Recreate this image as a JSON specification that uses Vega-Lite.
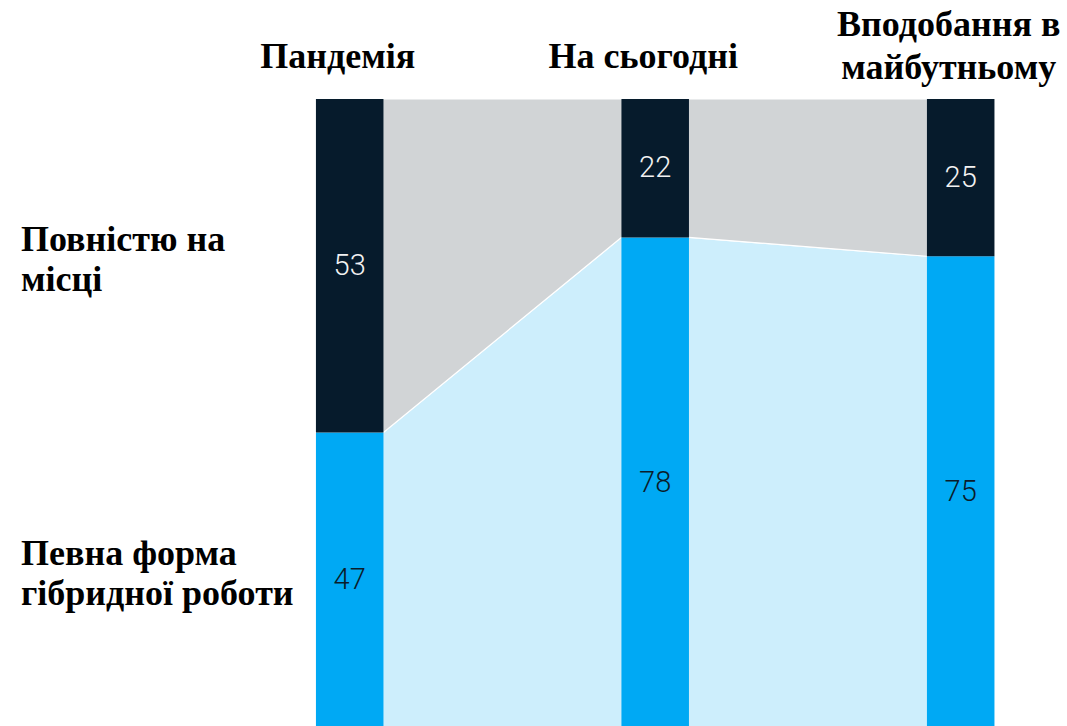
{
  "$schema": "https://vega.github.io/schema/vega-lite/v6.json",
  "width": 1067,
  "height": 726,
  "padding": 0,
  "autosize": {"type": "none"},
  "background": "white",
  "config": {"view": {"stroke": null}, "axis": {"disable": true}},
  "data": {
    "values": [
      {"period": "Пандемія", "order": 1, "group": "Певна форма\nгібридної роботи", "value": 47},
      {"period": "Пандемія", "order": 1, "group": "Повністю на\nмісці", "value": 53},
      {"period": "На сьогодні", "order": 2, "group": "Певна форма\nгібридної роботи", "value": 78},
      {"period": "На сьогодні", "order": 2, "group": "Повністю на\nмісці", "value": 22},
      {"period": "Вподобання в\nмайбутньому", "order": 3, "group": "Певна форма\nгібридної роботи", "value": 75},
      {"period": "Вподобання в\nмайбутньому", "order": 3, "group": "Повністю на\nмісці", "value": 25}
    ]
  },
  "transform": [
    {"stack": "value", "groupby": ["period"], "sort": [{"field": "group", "order": "ascending"}], "as": ["y0", "y1"]},
    {"calculate": "(datum.y0 + datum.y1) / 2", "as": "mid"},
    {"calculate": "datum.order - 0.1105", "as": "x0"},
    {"calculate": "datum.order + 0.1105", "as": "x1"}
  ],
  "layer": [
    {
      "transform": [
        {"fold": ["x0", "x1"], "as": ["side", "ex"]}
      ],
      "mark": {"type": "area", "stroke": "white", "strokeWidth": 1.2},
      "encoding": {
        "x": {"field": "ex", "type": "quantitative", "scale": {"domain": [-0.14468, 3.34795], "nice": false, "zero": false}, "axis": null},
        "y": {"field": "y0", "type": "quantitative", "scale": {"domain": [0.32, 115.74], "nice": false, "zero": false}, "axis": null},
        "y2": {"field": "y1"},
        "fill": {"field": "group", "type": "nominal", "scale": {"domain": ["Певна форма\nгібридної роботи", "Повністю на\nмісці"], "range": ["#cdeefc", "#d1d4d6"]}, "legend": null}
      }
    },
    {
      "mark": {"type": "rect"},
      "encoding": {
        "x": {"field": "x0", "type": "quantitative", "axis": null},
        "x2": {"field": "x1"},
        "y": {"field": "y0", "type": "quantitative", "axis": null},
        "y2": {"field": "y1"},
        "color": {"field": "group", "type": "nominal", "scale": {"domain": ["Певна форма\nгібридної роботи", "Повністю на\nмісці"], "range": ["#00a9f4", "#061b2c"]}, "legend": null}
      }
    },
    {
      "mark": {"type": "text", "font": "Roboto", "fontWeight": 300, "fontSize": 29, "align": "center", "baseline": "middle"},
      "encoding": {
        "x": {"field": "order", "type": "quantitative", "axis": null},
        "y": {"field": "mid", "type": "quantitative", "axis": null},
        "text": {"field": "value", "type": "quantitative"},
        "color": {"condition": {"test": "indexof(datum.group, 'Повністю') >= 0", "value": "#f2f2f2"}, "value": "#0b1c2b"}
      }
    },
    {
      "transform": [
        {"filter": "indexof(datum.group, 'Певна') >= 0"},
        {"calculate": "indexof(datum.period, '\\n') >= 0 ? 111.77 : 106.68", "as": "hy"}
      ],
      "mark": {"type": "text", "font": "Liberation Serif", "fontWeight": "bold", "fontSize": 36, "lineHeight": 43, "lineBreak": "\n", "align": "center", "baseline": "middle", "dx": -12, "color": "black"},
      "encoding": {
        "x": {"field": "order", "type": "quantitative", "axis": null},
        "y": {"field": "hy", "type": "quantitative", "axis": null},
        "text": {"field": "period", "type": "nominal"}
      }
    },
    {
      "transform": [{"filter": "datum.order == 1"}],
      "mark": {"type": "text", "font": "Liberation Serif", "fontWeight": "bold", "fontSize": 36, "lineHeight": 40, "lineBreak": "\n", "align": "left", "baseline": "middle", "dx": -328.7, "dy": -26, "color": "black"},
      "encoding": {
        "x": {"field": "order", "type": "quantitative", "axis": null},
        "y": {"field": "mid", "type": "quantitative", "axis": null},
        "text": {"field": "group", "type": "nominal"}
      }
    }
  ]
}
